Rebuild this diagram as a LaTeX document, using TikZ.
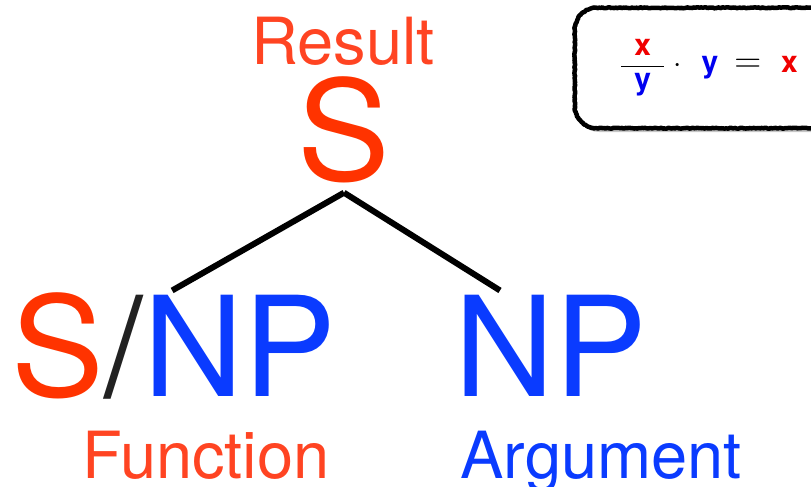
\documentclass[tikz,border=0pt]{standalone}
\usepackage{amsmath}
\usepackage{graphicx}
\usepackage{fontspec}
\setmainfont{TeX Gyre Heros}
\usetikzlibrary{shadows,decorations.pathmorphing}
\definecolor{catred}{HTML}{FF3300}
\definecolor{labred}{HTML}{FF4422}
\definecolor{catblue}{HTML}{0A3BFF}
\definecolor{slashgray}{HTML}{222222}
\definecolor{eqred}{HTML}{F00000}
\definecolor{eqblue}{HTML}{0000F0}

\begin{document}
\begin{tikzpicture}[x=1pt, y=-1pt,
						cat/.style={inner sep=0pt, anchor=base, font=\fontsize{139}{139}\selectfont},
						lab/.style={inner sep=0pt, anchor=base, font=\fontsize{65}{65}\selectfont},
						branch/.style={line width=6pt, black},
						rulebox/.style={fill=white, rounded corners=22pt, minimum width=256pt, minimum height=120pt, drop shadow={opacity=0.45, shadow xshift=2pt, shadow yshift=-4pt}},
						roughedge/.style={sharp corners, draw=black, line width=4.5pt, line join=round, decorate, decoration={random steps, segment length=1.5pt, amplitude=0.5pt}}
						]
						\useasboundingbox (0,0) rectangle (811,487);
						
						% Resultado
						\node[lab, text=labred] (reslab) at (343,65) {Result};
						\node[cat, text=catred, inner ysep=10pt] (top) at (344,180) {S};
						
						% Funcion S/NP
						\node[cat, anchor=base west, text=catred] (fnS) at (11,396) {S};
						\node[cat, anchor=base west, text=slashgray] (fnslash) at (fnS.base east) {/};
						\node[cat, anchor=base west, text=catblue] (fnNP) at (fnslash.base east) {NP};
						\node[lab, text=labred] (fnlab) at (206,478) {Function};
						
						% Argumento NP
						\node[cat, text=catblue] (arg) at (551,396) {NP};
						\node[lab, text=catblue] (arglab) at (601,478) {Argument};
						
						% Ramas
						\draw[branch] (top.south) -- ([xshift=29pt, yshift=4pt]fnNP.north west);
						\draw[branch] (top.south) -- ([xshift=-51pt, yshift=4pt]arg.north);
						
						% Regla de aplicacion
						\node[rulebox] (rule) at (703,68) {\fontsize{30}{34}\selectfont\bfseries\hspace{12pt}%
							$\dfrac{\hspace{13pt}\textcolor{eqred}{\mbox{x}}\hspace{13pt}}{\textcolor{eqblue}{\mbox{y}}}\hspace{8pt}\scalebox{1.2}{$\cdot$}\hspace{20pt}\textcolor{eqblue}{\mbox{y}}\hspace{16pt}\scalebox{1.5}{$=$}\hspace{20pt}\textcolor{eqred}{\mbox{x}}$};
						\path[rounded corners=22pt, postaction={roughedge}] (rule.north west) rectangle (rule.south east);
						
					\end{tikzpicture}
\end{document}
